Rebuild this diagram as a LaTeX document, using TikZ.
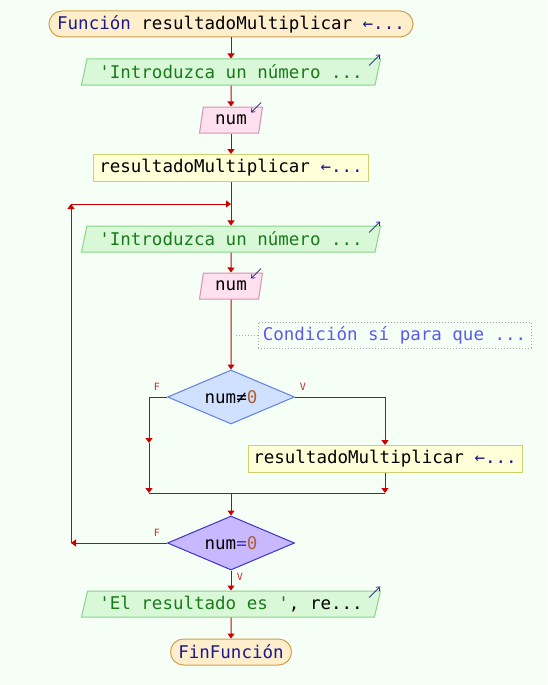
\documentclass[tikz,border=0pt]{standalone}
\usepackage{fontspec}
\setmonofont{DejaVu Sans Mono}
\usepackage{tikz}
\usetikzlibrary{arrows.meta,shapes.geometric}

\definecolor{fondo}{HTML}{F5FFF5}
\definecolor{linea}{HTML}{CC0000}
\definecolor{clave}{HTML}{1A1A8C}
\definecolor{cadena}{HTML}{1A7A1A}
\definecolor{numero}{HTML}{B0602F}
\definecolor{nota}{HTML}{5A5AF0}
\definecolor{termfondo}{HTML}{FFEECC}
\definecolor{termborde}{HTML}{D0A050}
\definecolor{salfondo}{HTML}{D8F8D8}
\definecolor{salborde}{HTML}{88D488}
\definecolor{entfondo}{HTML}{FFE0EE}
\definecolor{entborde}{HTML}{D890B4}
\definecolor{procfondo}{HTML}{FFFFD8}
\definecolor{procborde}{HTML}{D0D070}
\definecolor{condfondo}{HTML}{D0E0FF}
\definecolor{condborde}{HTML}{6080E0}
\definecolor{repfondo}{HTML}{C8B8FF}
\definecolor{repborde}{HTML}{4030D0}

\begin{document}
\begin{tikzpicture}[x=1pt,y=1pt,
  font=\fontsize{17.5}{20}\selectfont\ttfamily,
  flecha/.style={line width=1pt, draw=linea, -{Triangle[length=5pt,width=7pt]}},
  tramo/.style={line width=1pt, draw=linea},
  terminal/.style={draw=termborde, fill=termfondo, line width=1pt, rounded corners=13pt, minimum height=26pt, inner sep=0pt},
  salida/.style={trapezium, trapezium left angle=69, trapezium right angle=111, trapezium stretches body, draw=salborde, fill=salfondo, line width=1pt, minimum height=26pt, inner sep=0pt},
  entrada/.style={trapezium, trapezium left angle=69, trapezium right angle=111, trapezium stretches body, draw=entborde, fill=entfondo, line width=1pt, minimum height=26pt, inner sep=0pt},
  proceso/.style={draw=procborde, fill=procfondo, line width=1pt, minimum height=27pt, inner sep=0pt},
  decision/.style={diamond, aspect=2.3, line width=1pt, minimum width=127pt, minimum height=54pt, inner sep=0pt},
  etiqueta/.style={text=linea!85, font=\fontsize{10}{12}\selectfont\ttfamily},
  flechita/.style={draw=clave, line width=0.7pt, -{Straight Barb[length=3pt,width=5pt]}}]

\fill[fondo] (0,0) rectangle (547,-685);
\useasboundingbox (0,0) rectangle (547,-685);

% bloques
\node[terminal, minimum width=364pt] (inicio) at (231,-24) {\textcolor{clave}{Función} resultadoMultiplicar \textcolor{clave}{←...}};
\node[salida, minimum width=299pt] (pide1) at (231,-72) {\textcolor{cadena}{'Introduzca un número ...}};
\node[entrada, minimum width=63pt] (lee1) at (231,-120) {num};
\node[proceso, minimum width=275pt] (asig1) at (231,-168) {resultadoMultiplicar \textcolor{clave}{←...}};
\node[salida, minimum width=299pt] (pide2) at (231,-239) {\textcolor{cadena}{'Introduzca un número ...}};
\node[entrada, minimum width=63pt] (lee2) at (231,-286) {num};
\node[draw=gray!70, dotted, line width=1pt, minimum width=273pt, minimum height=26pt, inner sep=0pt, text=nota] (coment) at (394.5,-335) {Condición sí para que ...};
\node[decision, draw=condborde, fill=condfondo] (cond) at (231,-397) {num≠\textcolor{numero}{0}};
\node[proceso, minimum width=274pt] (asig2) at (385,-459) {resultadoMultiplicar \textcolor{clave}{←...}};
\node[decision, draw=repborde, fill=repfondo] (repite) at (231,-543) {num\textcolor{repborde}{=}\textcolor{numero}{0}};
\node[salida, minimum width=299pt] (muestra) at (231,-604) {\textcolor{cadena}{'El resultado es '}, re...};
\node[terminal, minimum width=121pt] (fin) at (231,-652) {\textcolor{clave}{FinFunción}};

% etiquetas
\node[etiqueta] (f1) at (157,-387) {F};
\node[etiqueta] (v1) at (303,-387) {V};
\node[etiqueta] (f2) at (157,-533) {F};
\node[etiqueta] (v2) at (240,-577) {V};

% puntos de paso
\coordinate (union) at (231,-204);
\coordinate (izq) at (71,-543);
\coordinate (izqarriba) at (71,-204);
\coordinate (fa) at (149,-397);
\coordinate (fb) at (149,-443);
\coordinate (fc) at (149,-493);
\coordinate (va) at (385,-397);
\coordinate (vc) at (385,-493);
\coordinate (cierre) at (231,-493);
\coordinate (ancla) at (234,-335);

% conectores
\draw[flecha] (inicio) -- (pide1);
\draw[flecha] (pide1) -- (lee1);
\draw[flecha] (lee1) -- (asig1);
\draw[tramo] (asig1) -- (union);
\draw[flecha] (union) -- (pide2);
\draw[flecha] (pide2) -- (lee2);
\draw[flecha] (lee2) -- (cond);
\draw[gray!70, dotted, line width=1pt] (coment) -- (ancla);
\draw[tramo] (cond.west) -- (fa);
\draw[flecha] (fa) -- (fb);
\draw[flecha] (fb) -- (fc);
\draw[tramo] (cond.east) -- (va);
\draw[flecha] (va) -- (asig2);
\draw[flecha] (asig2) -- (vc);
\draw[tramo] (fc) -- (vc);
\draw[flecha] (cierre) -- (repite);
\draw[flecha] (repite.west) -- (izq);
\draw[flecha] (izq) -- (izqarriba);
\draw[flecha] (izqarriba) -- (union);
\draw[flecha] (repite) -- (muestra);
\draw[flecha] (muestra) -- (fin);

% marcas de entrada y salida
\foreach \n in {pide1,pide2,muestra}
  \draw[flechita] ([shift={(-12,-7)}]\n.top right corner) -- ([shift={(-1,4)}]\n.top right corner);
\foreach \n in {lee1,lee2}
  \draw[flechita] ([shift={(-2,4)}]\n.top right corner) -- ([shift={(-12,-6)}]\n.top right corner);
\end{tikzpicture}
\end{document}
